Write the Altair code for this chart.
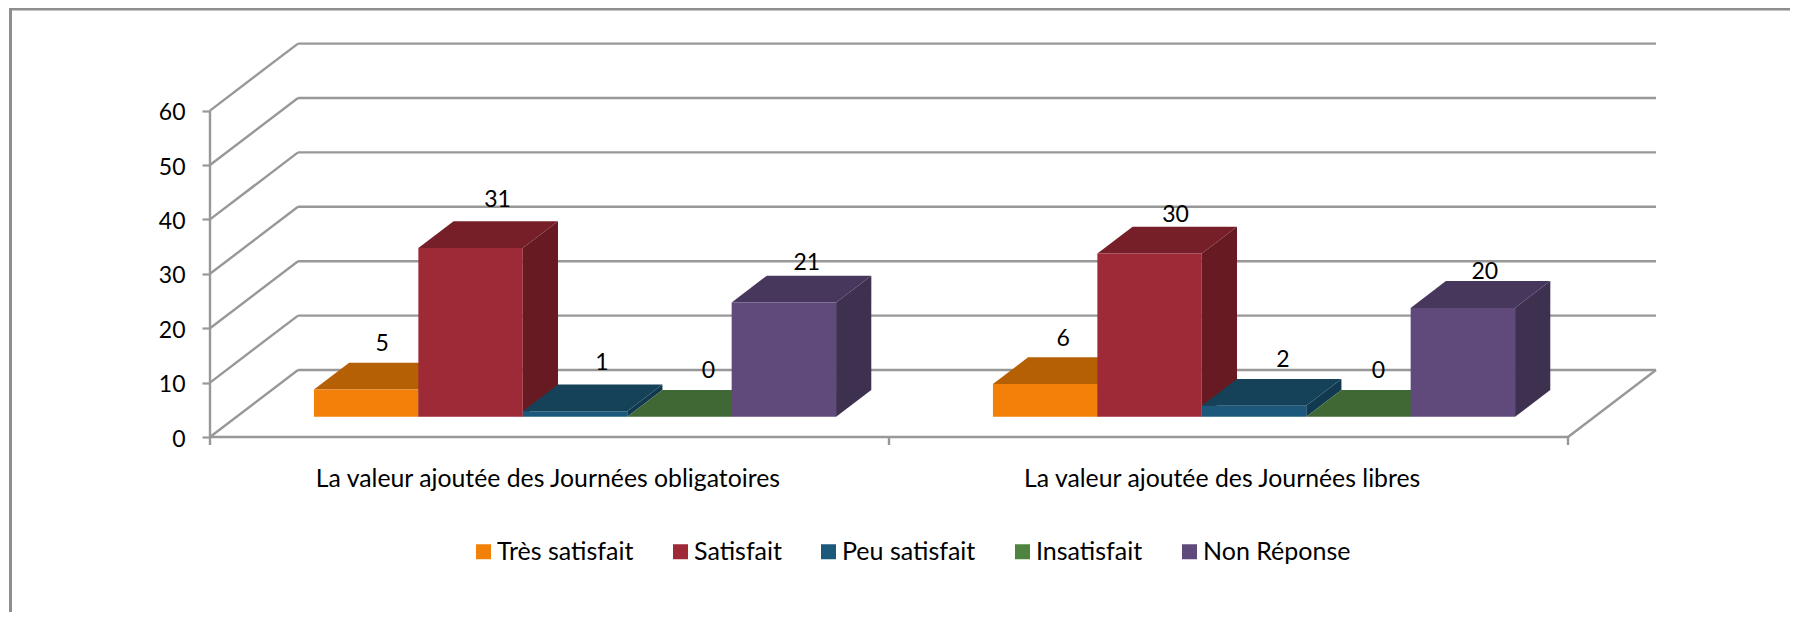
import altair as alt
import pandas as pd

categories = ["La valeur ajoutée des Journées obligatoires", "La valeur ajoutée des Journées libres"]
series = ["Très satisfait", "Satisfait", "Peu satisfait", "Insatisfait", "Non Réponse"]
values_obligatoires = [5, 31, 1, 0, 21]
values_libres = [6, 30, 2, 0, 20]
y_ticks = [0, 10, 20, 30, 40, 50, 60]

front_colors = ["#f38008", "#9e2937", "#1b587c", "#4f8440", "#604a7b"]
top_colors = ["#b66006", "#771f29", "#154258", "#3f6834", "#48375c"]
side_colors = ["#8f4c05", "#671a22", "#113a50", "#33542a", "#3e304f"]
GRID = "#989898"
FRAME = "#8e8e8e"
FONT = "Lato"

W, H = 1782, 604
PX_X = 679.0      # px per category
PX_Y = 5.44       # px per value unit
X0, Y0 = 202.0, 429.0
xs = alt.Scale(domain=[-X0 / PX_X, (W - X0) / PX_X], range=[0, W], nice=False, zero=False)
ys = alt.Scale(domain=[(Y0 - H) / PX_Y, Y0 / PX_Y], range=[H, 0], nice=False, zero=False)
DEPTH_X = 88 / PX_X
DEPTH_Y = 67 / PX_Y
BAR_W = 0.1538
GAP = 0.1138
D_FRONT = 0.303
D_BACK = 0.703


def px(c, d):
    return c + d * DEPTH_X


def py(v, d):
    return v + d * DEPTH_Y


label_map = "datum.value < 1 ? '%s' : '%s'" % (categories[0], categories[1])
x_axis = alt.Axis(
    values=[0.497, 1.49], labelExpr=label_map, offset=Y0 - H, domain=False, grid=False,
    ticks=False, labelFont=FONT, labelFontSize=24.8, labelColor="#000000", labelLimit=800,
    labelPadding=29, labelBaseline="top", labelFlush=False, labelOverlap=False)
y_axis = alt.Axis(
    values=y_ticks, offset=-X0, domain=False, grid=False, tickColor=GRID, tickSize=8,
    tickWidth=2.2, labelFont=FONT, labelFontSize=23, labelColor="#000000", labelPadding=17,
    labelOffset=2)

X = lambda f="x": alt.X(f"{f}:Q", scale=xs, axis=x_axis, title=None)
Y = lambda f="y": alt.Y(f"{f}:Q", scale=ys, axis=y_axis, title=None)

# frame
frame_left = alt.Chart(pd.DataFrame({"a": [0]})).mark_rule(color=FRAME, strokeWidth=3).encode(
    x=alt.value(2.5), y=alt.value(0), y2=alt.value(H))
frame_top = alt.Chart(pd.DataFrame({"a": [0]})).mark_rule(color=FRAME, strokeWidth=3).encode(
    x=alt.value(1), x2=alt.value(W), y=alt.value(1))

# walls
rows = []
for v in y_ticks:
    rows.append(dict(x=px(0, 0), x2=px(0, 1), y=py(v, 0), y2=py(v, 1)))
    rows.append(dict(x=px(0, 1), x2=px(2, 1), y=py(v, 1), y2=py(v, 1)))
rows.append(dict(x=px(0, 0), x2=px(2, 0), y=0, y2=0))
rows.append(dict(x=px(2, 0), x2=px(2, 1), y=0, y2=py(0, 1)))
rows.append(dict(x=0, x2=0, y=-1.47, y2=60))
for c in [1, 2]:
    rows.append(dict(x=c, x2=c, y=-1.47, y2=0))
grid = alt.Chart(pd.DataFrame(rows)).mark_rule(color=GRID, strokeWidth=2.4).encode(
    x=X(), x2="x2:Q", y=Y(), y2="y2:Q")

color = alt.Color("serie:N", scale=alt.Scale(domain=series, range=front_colors), legend=alt.Legend(
    title=None, orient="none", legendX=463, legendY=531, columns=5, symbolType="square",
    symbolSize=225, symbolStrokeWidth=0, labelFont=FONT, labelFontSize=25, labelColor="#000000",
    columnPadding=34, labelOffset=1, symbolOpacity=1))

# bars
layers = [frame_left, frame_top, grid]
texts = []
label_dx = [[16, 27, 27, 29, 23], [18, 26, 29, 20, 22]]
label_dy = [[45, 48, 48, 46, 39], [45, 38, 46, 46, 36]]
for c, vals in enumerate([values_obligatoires, values_libres]):
    for i, v in enumerate(vals):
        left = c + GAP + i * BAR_W
        right = left + BAR_W
        # side face
        side = pd.DataFrame({
            "x": [px(right, D_FRONT), px(right, D_BACK)],
            "y": [py(0, D_FRONT), py(0, D_BACK)],
            "y2": [py(v, D_FRONT), py(v, D_BACK)],
        })
        layers.append(alt.Chart(side).mark_area(color=side_colors[i], orient="vertical").encode(
            x=X(), y=Y(), y2="y2:Q"))
        # top face
        top = pd.DataFrame({
            "y": [py(v, D_FRONT), py(v, D_BACK)],
            "x": [px(left, D_FRONT), px(left, D_BACK)],
            "x2": [px(right, D_FRONT), px(right, D_BACK)],
        })
        layers.append(alt.Chart(top).mark_area(color=top_colors[i], orient="horizontal").encode(
            y=Y(), x=X(), x2="x2:Q"))
        # front face
        front = pd.DataFrame([{
            "x": px(left, D_FRONT), "x2": px(right, D_FRONT),
            "y": py(0, D_FRONT), "y2": py(v, D_FRONT), "serie": series[i],
        }])
        layers.append(alt.Chart(front).mark_rect().encode(x=X(), x2="x2:Q", y=Y(), y2="y2:Q", color=color))
        # data label
        lab = pd.DataFrame([{
            "x": px((left + right) / 2, D_FRONT), "y": py(v, D_FRONT), "t": str(v),
        }])
        texts.append(alt.Chart(lab).mark_text(
            font=FONT, fontSize=23, color="#000000", dx=label_dx[c][i], dy=-label_dy[c][i],
            baseline="middle", align="center",
        ).encode(x=X(), y=Y(), text="t:N"))

chart = alt.layer(*layers, *texts).properties(
    width=W, height=H, padding=0, autosize=alt.AutoSizeParams(type="none"), background="#ffffff",
).configure_view(stroke=None)

chart.save("out.html", embed_options={"renderer": "svg", "actions": False})
